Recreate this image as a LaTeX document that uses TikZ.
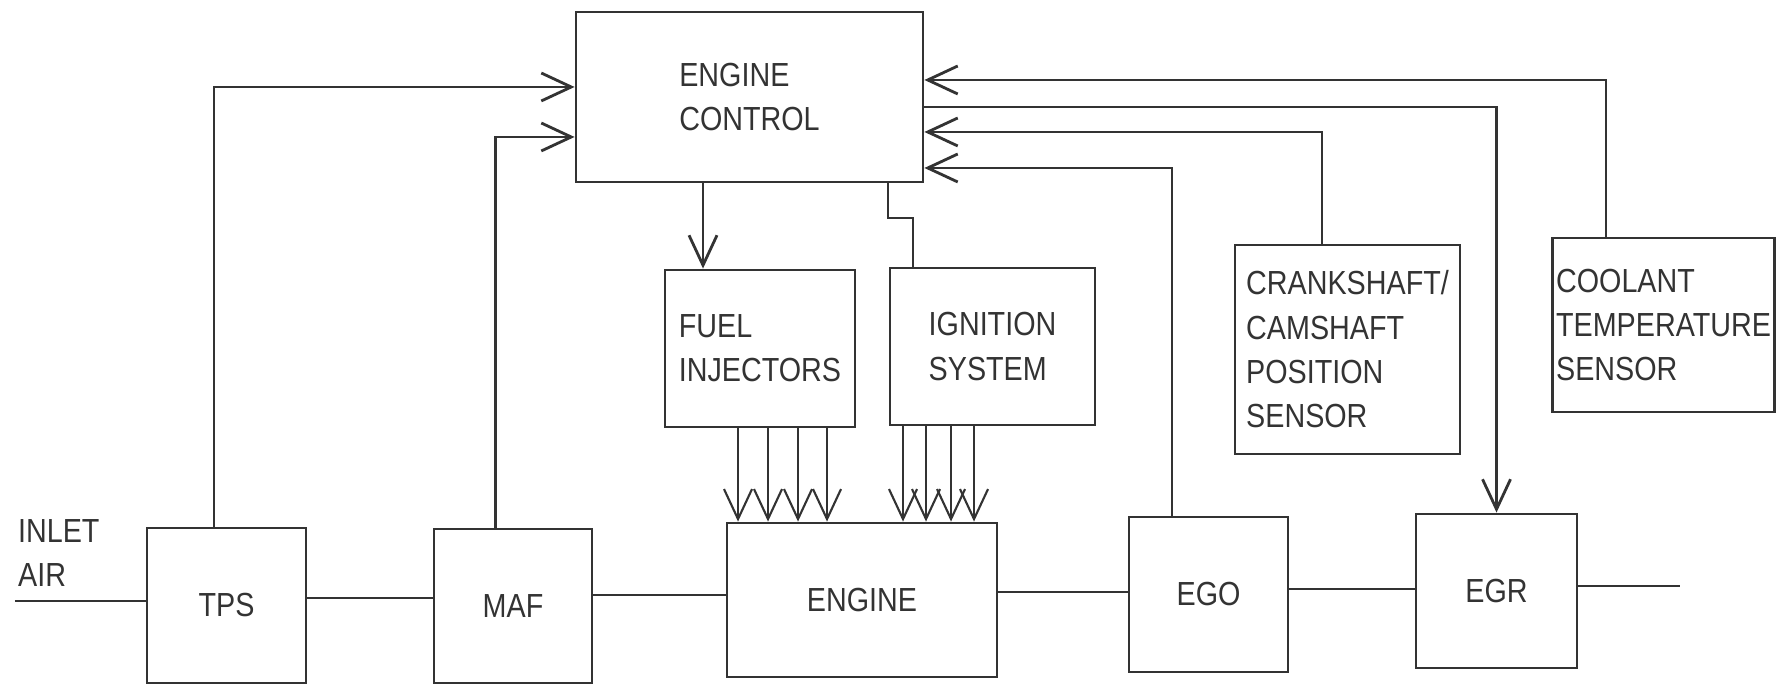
\documentclass[tikz,border=0pt]{standalone}
\usepackage{fontspec}
\setmainfont{Liberation Sans}[FakeStretch=0.86]
\usetikzlibrary{arrows.meta}

\begin{document}
\begin{tikzpicture}[line width=0.8pt, color=black!80,
  every node/.style={font=\fontsize{9.5}{12.6}\selectfont},
  box/.style={draw, inner sep=1pt, align=left},
  arr/.style={-{Straight Barb[length=3mm,width=2.8mm]}}]
  \useasboundingbox (0,0) rectangle (17.76,6.85);

  \node[box, minimum width=3.47cm, minimum height=1.70cm] (ctrl) at (7.495,5.88) {ENGINE\\CONTROL};
  \node[box, minimum width=1.90cm, minimum height=1.57cm] (fuel) at (7.60,3.365) {FUEL\\INJECTORS};
  \node[box, minimum width=2.05cm, minimum height=1.57cm] (ign) at (9.925,3.385) {IGNITION\\SYSTEM};
  \node[box, minimum width=2.25cm, minimum height=2.09cm] (crank) at (13.475,3.355) {CRANKSHAFT/\\CAMSHAFT\\POSITION\\SENSOR};
  \node[box, minimum width=2.21cm, minimum height=1.74cm] (cool) at (16.635,3.60) {COOLANT\\TEMPERATURE\\SENSOR};

  \node[box, minimum width=1.59cm, minimum height=1.55cm] (tps) at (2.265,0.795) {TPS};
  \node[box, minimum width=1.58cm, minimum height=1.54cm] (maf) at (5.13,0.79) {MAF};
  \node[box, minimum width=2.70cm, minimum height=1.54cm] (eng) at (8.62,0.85) {ENGINE};
  \node[box, minimum width=1.59cm, minimum height=1.55cm] (ego) at (12.085,0.905) {EGO};
  \node[box, minimum width=1.61cm, minimum height=1.54cm] (egr) at (14.965,0.94) {EGR};
  \node[anchor=west, align=left] (inlet) at (0.05,1.32) {INLET\\AIR};

  % air path
  \coordinate (in) at (0.15,0.84);
  \coordinate (out) at (16.80,0.99);
  \draw (in) -- (tps.west |- in);
  \draw (tps.east |- 0,0.87) -- (maf.west |- 0,0.87);
  \draw (maf.east |- 0,0.90) -- (eng.west |- 0,0.90);
  \draw (eng.east |- 0,0.93) -- (ego.west |- 0,0.93);
  \draw (ego.east |- 0,0.96) -- (egr.west |- 0,0.96);
  \draw (egr.east |- out) -- (out);

  % sensor signals
  \draw[arr] ([xshift=-1.25mm]tps.north) |- (ctrl.west |- 0,5.98);
  \draw[arr] ([xshift=-1.75mm]maf.north) |- (ctrl.west |- 0,5.48);
  \draw[arr] ([xshift=-3.65mm]ego.north) |- (ctrl.east |- 0,5.17);
  \draw[arr] ([xshift=-2.55mm]crank.north) |- (ctrl.east |- 0,5.53);
  \draw[arr] ([xshift=-5.75mm]cool.north) |- (ctrl.east |- 0,6.05);
  \draw[arr] (ctrl.east |- 0,5.78) -| (egr.north);

  % actuators
  \draw[arr] (ctrl.south -| 7.03,0) -- (fuel.north -| 7.03,0);
  \coordinate (jog) at (9.13,4.67);
  \draw (ctrl.south -| 8.88,0) |- (jog) -- (ign.north -| jog);
  \foreach \x in {7.38,7.68,7.98,8.27}
    \draw[arr, line width=0.6pt] (fuel.south -| \x,0) -- (eng.north -| \x,0);
  \foreach \x in {9.03,9.26,9.51,9.74}
    \draw[arr, line width=0.6pt] (ign.south -| \x,0) -- (eng.north -| \x,0);
\end{tikzpicture}
\end{document}
